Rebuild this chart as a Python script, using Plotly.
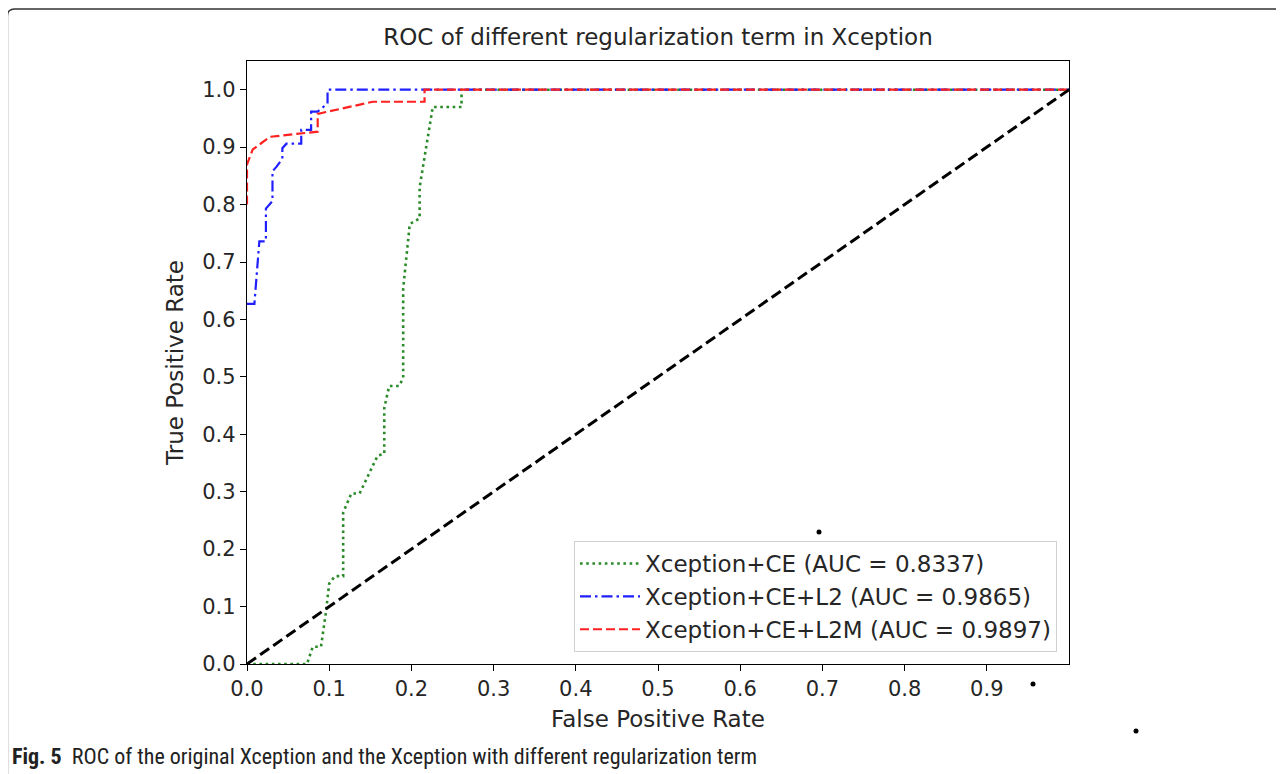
import plotly.graph_objects as go

# ---- data ----
ce_fpr = [0.0, 0.073, 0.080, 0.090, 0.096, 0.100, 0.107, 0.117, 0.117, 0.127, 0.137, 0.159, 0.167, 0.167, 0.173, 0.185, 0.190, 0.190, 0.198, 0.210, 0.210, 0.226, 0.261, 0.261, 1.0]
ce_tpr = [0.0, 0.0, 0.03, 0.03, 0.09, 0.14, 0.153, 0.153, 0.264, 0.297, 0.297, 0.363, 0.366, 0.446, 0.484, 0.484, 0.498, 0.654, 0.766, 0.776, 0.83, 0.97, 0.97, 1.0, 1.0]

l2_fpr = [0.0, 0.009, 0.015, 0.023, 0.023, 0.031, 0.031, 0.036, 0.043, 0.043, 0.048, 0.066, 0.066, 0.078, 0.078, 0.086, 0.098, 0.098, 1.0]
l2_tpr = [0.627, 0.627, 0.736, 0.736, 0.793, 0.806, 0.858, 0.866, 0.88, 0.898, 0.906, 0.906, 0.93, 0.93, 0.962, 0.962, 0.976, 1.0, 1.0]

l2m_fpr = [0.0, 0.0, 0.007, 0.023, 0.028, 0.086, 0.086, 0.153, 0.216, 0.216, 1.0]
l2m_tpr = [0.8, 0.87, 0.896, 0.913, 0.918, 0.927, 0.958, 0.979, 0.979, 1.0, 1.0]

chance = [0.0, 1.0]

series_names = ["Xception+CE (AUC = 0.8337)",
                "Xception+CE+L2 (AUC = 0.9865)",
                "Xception+CE+L2M (AUC = 0.9897)"]

x_ticks = [0.0, 0.1, 0.2, 0.3, 0.4, 0.5, 0.6, 0.7, 0.8, 0.9]
x_tick_labels = ["0.0", "0.1", "0.2", "0.3", "0.4", "0.5", "0.6", "0.7", "0.8", "0.9"]
y_ticks = [0.0, 0.1, 0.2, 0.3, 0.4, 0.5, 0.6, 0.7, 0.8, 0.9, 1.0]
y_tick_labels = ["0.0", "0.1", "0.2", "0.3", "0.4", "0.5", "0.6", "0.7", "0.8", "0.9", "1.0"]

FONT = "DejaVu Sans"
TXT = "#262626"

# the page body adds an 8px offset; work in page coordinates and shift
OFF = 8
FW, FH = 1284 - OFF, 774 - OFF
L, R, T, B = 247 - OFF, 1069 - OFF, 61 - OFF, 664 - OFF
W, H = R - L, B - T


def px(x):
    return (x - OFF - L) / W


def py(y):
    return (B - (y - OFF)) / H


fig = go.Figure()
fig.add_trace(go.Scatter(x=ce_fpr, y=ce_tpr, mode="lines", name=series_names[0],
                         line=dict(color="#2a8a2a", width=2.6, dash="2.6px,3.6px")))
fig.add_trace(go.Scatter(x=l2_fpr, y=l2_tpr, mode="lines", name=series_names[1],
                         line=dict(color="#1f1fff", width=2.2, dash="11px,4px,2.5px,4px")))
fig.add_trace(go.Scatter(x=l2m_fpr, y=l2m_tpr, mode="lines", name=series_names[2],
                         line=dict(color="#ff2020", width=2.2, dash="9px,4px")))
fig.add_trace(go.Scatter(x=chance, y=chance, mode="lines", showlegend=False,
                         line=dict(color="black", width=3, dash="11px,5px")))

axis_common = dict(showline=True, linecolor="black", linewidth=1.3, mirror=True,
                   ticks="outside", ticklen=6, tickcolor="black", tickwidth=1.3,
                   showgrid=False, zeroline=False,
                   tickfont=dict(family=FONT, size=21, color=TXT))

fig.update_xaxes(range=[0, 1.0], tickvals=x_ticks, ticktext=x_tick_labels,
                 title=dict(text="False Positive Rate", font=dict(family=FONT, size=23, color=TXT),
                            standoff=10),
                 **axis_common)
fig.update_yaxes(range=[0, 1.05], tickvals=y_ticks, ticktext=y_tick_labels,
                 title=dict(text="True Positive Rate", font=dict(family=FONT, size=23, color=TXT),
                            standoff=12),
                 **axis_common)

frame_path = (f"M {px(7.5)} {py(790)} L {px(7.5)} {py(16)} "
              f"Q {px(7.5)} {py(9)} {px(14.5)} {py(9)} L {px(1300)} {py(9)}")

shapes = [dict(type="path", xref="paper", yref="paper", path=frame_path,
               line=dict(color="#333", width=1.3))]
for (dx, dy) in [(819, 532), (1033, 684), (1136, 731)]:
    shapes.append(dict(type="circle", xref="paper", yref="paper",
                       x0=px(dx - 2.5), x1=px(dx + 2.5), y0=py(dy + 2.5), y1=py(dy - 2.5),
                       fillcolor="black", line=dict(width=0)))

fig.update_layout(
    width=FW, height=FH,
    margin=dict(l=L, r=FW - R, t=T, b=FH - B),
    paper_bgcolor="white", plot_bgcolor="white",
    title=dict(text="ROC of different regularization term in Xception",
               font=dict(family=FONT, size=23, color=TXT),
               x=(L + R) / 2 / FW, xanchor="center", y=1 - (37 - OFF) / FH, yanchor="middle"),
    legend=dict(x=px(1057), y=py(652), xanchor="right", yanchor="bottom",
                bgcolor="rgba(255,255,255,0.9)", bordercolor="#d0d0d0", borderwidth=1,
                font=dict(family=FONT, size=23, color=TXT),
                itemwidth=60, tracegroupgap=0),
    shapes=shapes,
    annotations=[dict(text="<b>Fig. 5</b>  ROC of the original Xception and the Xception with different regularization term",
                      xref="paper", yref="paper", x=px(10), y=py(756),
                      xanchor="left", yanchor="middle", showarrow=False,
                      font=dict(family="Liberation Sans Narrow, Roboto Condensed, Liberation Sans", size=22, color="#222"))],
)

fig.write_html("out.html")
